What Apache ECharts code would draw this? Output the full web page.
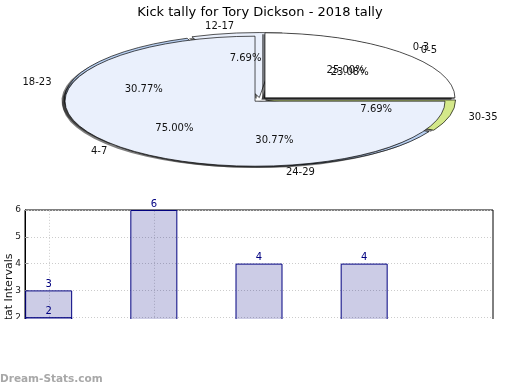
<!DOCTYPE html>
<html><head><meta charset="utf-8">
<script src="https://cdn.jsdelivr.net/npm/echarts@6/dist/echarts.min.js"></script>
<style>
html,body{margin:0;padding:0;background:#fff;}
#pie{position:absolute;left:0;top:0;width:520px;height:390px;}
#barwrap{position:absolute;left:0;top:0;width:520px;height:319px;overflow:hidden;}
#bar{position:absolute;left:0;top:0;width:520px;height:420px;}
</style></head>
<body>
<div id="pie"></div>
<div id="barwrap"><div id="bar"></div></div>
<script>
// ---- data ----
const titleText = 'Kick tally for Tory Dickson - 2018 tally';
const pieANames = ['0-3', '4-7'];
const pieAValues = [1, 3];
const pieBNames = ['0-5', '12-17', '18-23', '24-29', '30-35'];
const pieBValues = [3, 1, 4, 4, 1];
const barXs = [0, 1, 2, 3];
const barValues = [3, 6, 4, 4];
const bar2Xs = [0];
const bar2Values = [2];
const xGridTicks = [0, 1];
const yAxisName = 'Stat Intervals';

// ---- styles ----
const FONT = 'DejaVu Sans';
const CX = 260, CY = 99.5, RX = 190, RY = 65;
const pieAColors = ['#ffffff', '#eaf0fc'];
const pieBColors = ['#ffffff', '#eaf0fc', '#b8cff0', '#b8cff0', '#d4e88a'];

function pieSeries(names, values, colors, explode, zOffset) {
  const total = values.reduce((a, b) => a + b, 0);
  const cum = [];
  let acc = 0;
  values.forEach(v => { cum.push(acc); acc += v; });
  return {
    type: 'custom',
    coordinateSystem: 'none',
    silent: true,
    z: 2,
    data: values.map((v, i) => [v, i]),
    renderItem: function (params, api) {
      const i = params.dataIndex;
      const v = api.value(0);
      const t1 = 2 * Math.PI * cum[i] / total;
      const t2 = 2 * Math.PI * (cum[i] + v) / total;
      const tm = (t1 + t2) / 2;
      const dx = explode * RX * Math.cos(tm);
      const dy = -explode * RY * Math.sin(tm);
      const base = {
        type: 'sector',
        shape: { cx: CX, cy: CY, r: RX, r0: 0, startAngle: -t1, endAngle: -t2, clockwise: false },
        scaleY: RY / RX, originX: CX, originY: CY
      };
      const shadow = Object.assign({}, base, {
        x: dx - 3, y: dy + 1.5, z2: zOffset,
        style: { fill: 'rgba(0,0,0,0.5)', stroke: null }
      });
      const wedge = Object.assign({}, base, {
        x: dx, y: dy, z2: zOffset + 1,
        style: { fill: colors[i], stroke: '#000', lineWidth: 1, strokeNoScale: true }
      });
      const lx = CX + dx + 1.1 * RX * Math.cos(tm);
      const ly = CY + dy - 1.1 * RY * Math.sin(tm);
      const px = CX + dx + 0.6 * RX * Math.cos(tm);
      const py = CY + dy - 0.6 * RY * Math.sin(tm);
      const nameText = {
        type: 'text', z2: 100,
        style: {
          x: lx, y: ly, text: names[i],
          align: Math.cos(tm) >= 0 ? 'left' : 'right', verticalAlign: 'middle',
          font: '10px "' + FONT + '"', fill: '#111'
        }
      };
      const pctText = {
        type: 'text', z2: 100,
        style: {
          x: px, y: py, text: (100 * v / total).toFixed(2) + '%',
          align: 'center', verticalAlign: 'middle',
          font: '10px "' + FONT + '"', fill: '#111'
        }
      };
      return { type: 'group', children: [shadow, wedge, nameText, pctText] };
    }
  };
}

const pie = echarts.init(document.getElementById('pie'), null, { renderer: 'canvas' });
pie.setOption({
  animation: false,
  title: {
    text: titleText, left: 'center', top: 1,
    textStyle: { fontFamily: FONT, fontSize: 13, fontWeight: 'normal', color: '#000' }
  },
  graphic: [{
    type: 'text', left: 0, top: 374,
    style: { text: 'Dream-Stats.com', font: 'bold 10.5px "' + FONT + '"', fill: '#a8a8a8' }
  }],
  series: [
    pieSeries(pieBNames, pieBValues, pieBColors, 0.03, 0),
    pieSeries(pieANames, pieAValues, pieAColors, 0.037, 10)
  ]
});

const bar = echarts.init(document.getElementById('bar'), null, { renderer: 'canvas' });
const barLabel = { show: true, position: 'top', distance: 1, color: '#000080', fontFamily: FONT, fontSize: 10 };
const barItem = { color: 'rgba(0,0,128,0.2)', borderColor: '#000080', borderWidth: 1 };
bar.setOption({
  animation: false,
  grid: { left: 25, right: 27, top: 210, height: 160.8, outerBoundsMode: 'none', containLabel: false,
          show: true, borderColor: '#000', borderWidth: 1, backgroundColor: 'transparent' },
  xAxis: {
    type: 'value', min: -0.225, max: 4.225,
    axisLine: { show: false }, axisTick: { show: false }, axisLabel: { show: false }, splitLine: { show: false }
  },
  yAxis: {
    type: 'value', min: 0, max: 6, interval: 1,
    name: yAxisName, nameLocation: 'middle', nameRotate: 90, nameGap: 10, nameMoveOverlap: false,
    nameTextStyle: { fontFamily: FONT, fontSize: 11, color: '#111' },
    axisLine: { show: true, onZero: false, lineStyle: { color: '#000' } },
    axisTick: { show: true, inside: true, length: 3, lineStyle: { color: '#999' } },
    axisLabel: { fontFamily: FONT, fontSize: 9, color: '#222', margin: 4 },
    splitLine: { show: true, lineStyle: { color: '#cccccc', type: [1, 2], width: 1 } }
  },
  series: [
    {
      type: 'custom', silent: true, z: 1,
      data: xGridTicks.map(x => [x]),
      renderItem: function (params, api) {
        const x = api.value(0);
        const p0 = api.coord([x, 0]);
        const p1 = api.coord([x, 6]);
        return {
          type: 'line',
          shape: { x1: Math.round(p0[0]) + 0.5, y1: p0[1], x2: Math.round(p0[0]) + 0.5, y2: p1[1] },
          style: { stroke: '#cccccc', lineWidth: 1, lineDash: [1, 2] }
        };
      }
    },
    {
      type: 'bar', barWidth: 47, barGap: '-100%', z: 2,
      data: barXs.map((x, i) => [x, barValues[i]]),
      itemStyle: barItem, label: barLabel
    },
    {
      type: 'bar', barWidth: 47, barGap: '-100%', z: 2,
      data: bar2Xs.map((x, i) => [x, bar2Values[i]]),
      itemStyle: barItem, label: barLabel
    }
  ]
});
</script>
</body></html>
